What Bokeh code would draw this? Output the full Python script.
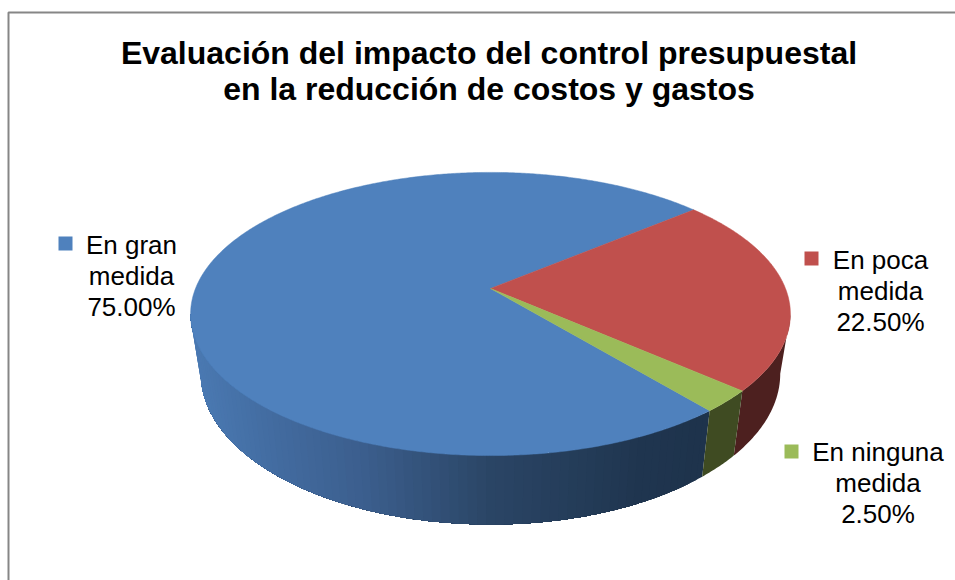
import numpy as np
from bokeh.embed import file_html
from bokeh.models import Range1d
from bokeh.plotting import figure
from bokeh.resources import INLINE
from bokeh.core.properties import value

title_lines = ["Evaluación del impacto del control presupuestal",
               "en la reducción de costos y gastos"]
categories = ["En gran medida", "En poca medida", "En ninguna medida"]
shares = [75.00, 22.50, 2.50]
label_lines = [["En gran", "medida"], ["En poca", "medida"], ["En ninguna", "medida"]]

top_colors = ["#4F81BD", "#C0504D", "#9BBB59"]
wall_colors = [None, "#4D201F", "#3F4B22"]
# Shading of the blue wall, sampled along the horizontal position
ramp_x = [190, 260, 360, 490, 640, 710]
ramp_r = [0x4B, 0x44, 0x3C, 0x2B, 0x20, 0x1E]
ramp_g = [0x7A, 0x6E, 0x5F, 0x46, 0x36, 0x33]
ramp_b = [0xB3, 0xA3, 0x8E, 0x66, 0x50, 0x4C]

FONT = "Liberation Sans"
FIRST_ANGLE = 140.2   # clockwise from the far side of the disc
PERSPECTIVE = 0.18


def rim(theta_deg, cx, cy, ax, ay):
    """Project a point on the unit disc's rim, with foreshortening toward the far side."""
    t = np.radians(theta_deg)
    u, v = np.sin(t), np.cos(t)
    w = 1 + PERSPECTIVE * v
    return cx + ax * u / w, cy - ay * v / w


def wall_patch(t0, t1):
    """Outline of the wall between two rim angles."""
    grid = np.linspace(t0, t1, max(2, int(abs(t1 - t0) * 2) + 2))
    tx, ty = rim(grid, **TOP)
    bx, by = rim(grid[::-1], **BOTTOM)
    return list(tx) + list(bx), list(ty) + list(by)


TOP = dict(cx=490, cy=288, ax=295, ay=137)
BOTTOM = dict(cx=490, cy=346, ax=285, ay=146)
V_LEFT, V_RIGHT = 259.6, 100.4   # silhouette angles of the visible wall
STEP = 1.5

p = figure(width=955, height=580, output_backend="svg", toolbar_location=None,
           x_range=Range1d(0, 955), y_range=Range1d(580, 0),
           min_border=0, outline_line_color=None, background_fill_color="white",
           border_fill_color="white")
p.axis.visible = False
p.grid.visible = False

# Chart frame
p.line([8, 8, 955], [580, 12, 12], line_color="#868686", line_width=2)

# Slice extents in degrees
edges = FIRST_ANGLE + np.concatenate([[0], np.cumsum(shares)]) * 3.6
spans = [(edges[i], edges[i + 1]) for i in range(len(shares))]

# Outer wall: flat parts first, then the shaded blue part painted from its far
# end, every band overlapping the previous one so no seams show between them
for i, (a0, a1) in enumerate(spans):
    lo, hi = max(a0, V_RIGHT), min(a1, V_LEFT)
    if hi <= lo:
        lo, hi = max(a0 - 360, V_RIGHT), min(a1 - 360, V_LEFT)
    if hi <= lo:
        continue
    if wall_colors[i] is not None:
        xs, ys = wall_patch(lo, hi)
        p.patch(xs, ys, fill_color=wall_colors[i], line_color=None)
    else:
        for t0 in np.arange(lo, hi, STEP):
            xs, ys = wall_patch(t0, hi)
            mx = rim(np.array([t0 + STEP / 2]), **TOP)[0][0]
            col = "#%02X%02X%02X" % (int(np.interp(mx, ramp_x, ramp_r)),
                                     int(np.interp(mx, ramp_x, ramp_g)),
                                     int(np.interp(mx, ramp_x, ramp_b)))
            p.patch(xs, ys, fill_color=col, line_color=None)

# Top face of every slice, meeting at the projected disc centre
for (a0, a1), col in zip(spans, top_colors):
    grid = np.linspace(a0, a1, int(a1 - a0) * 2 + 2)
    rx, ry = rim(grid, **TOP)
    p.patch([TOP["cx"], *rx], [TOP["cy"], *ry], fill_color=col, line_color=col, line_width=0.5)

# Title
p.text([488.5] * 2, [52, 88], text=title_lines, text_align="center", text_baseline="middle",
       text_font=value(FONT), text_font_style="bold", text_font_size="32px", text_color="#000000")

# Data labels with their legend keys
label_x = [131, 880, 877.5]
label_y = [244, 259, 451]
key_x = [65, 811, 791]
key_y = [243, 258, 451]
for i, lines in enumerate(label_lines):
    rows = lines + [f"{shares[i]:.2f}%"]
    p.text([label_x[i]] * 3, [label_y[i] + k * 31.2 for k in range(3)], text=rows,
           text_align="center", text_baseline="middle", text_font=value(FONT),
           text_font_size="26px", text_color="#000000")
    p.rect([key_x[i]], [key_y[i]], width=14, height=14, fill_color=top_colors[i], line_color=None)

open("out.html", "w").write(file_html(p, INLINE))
